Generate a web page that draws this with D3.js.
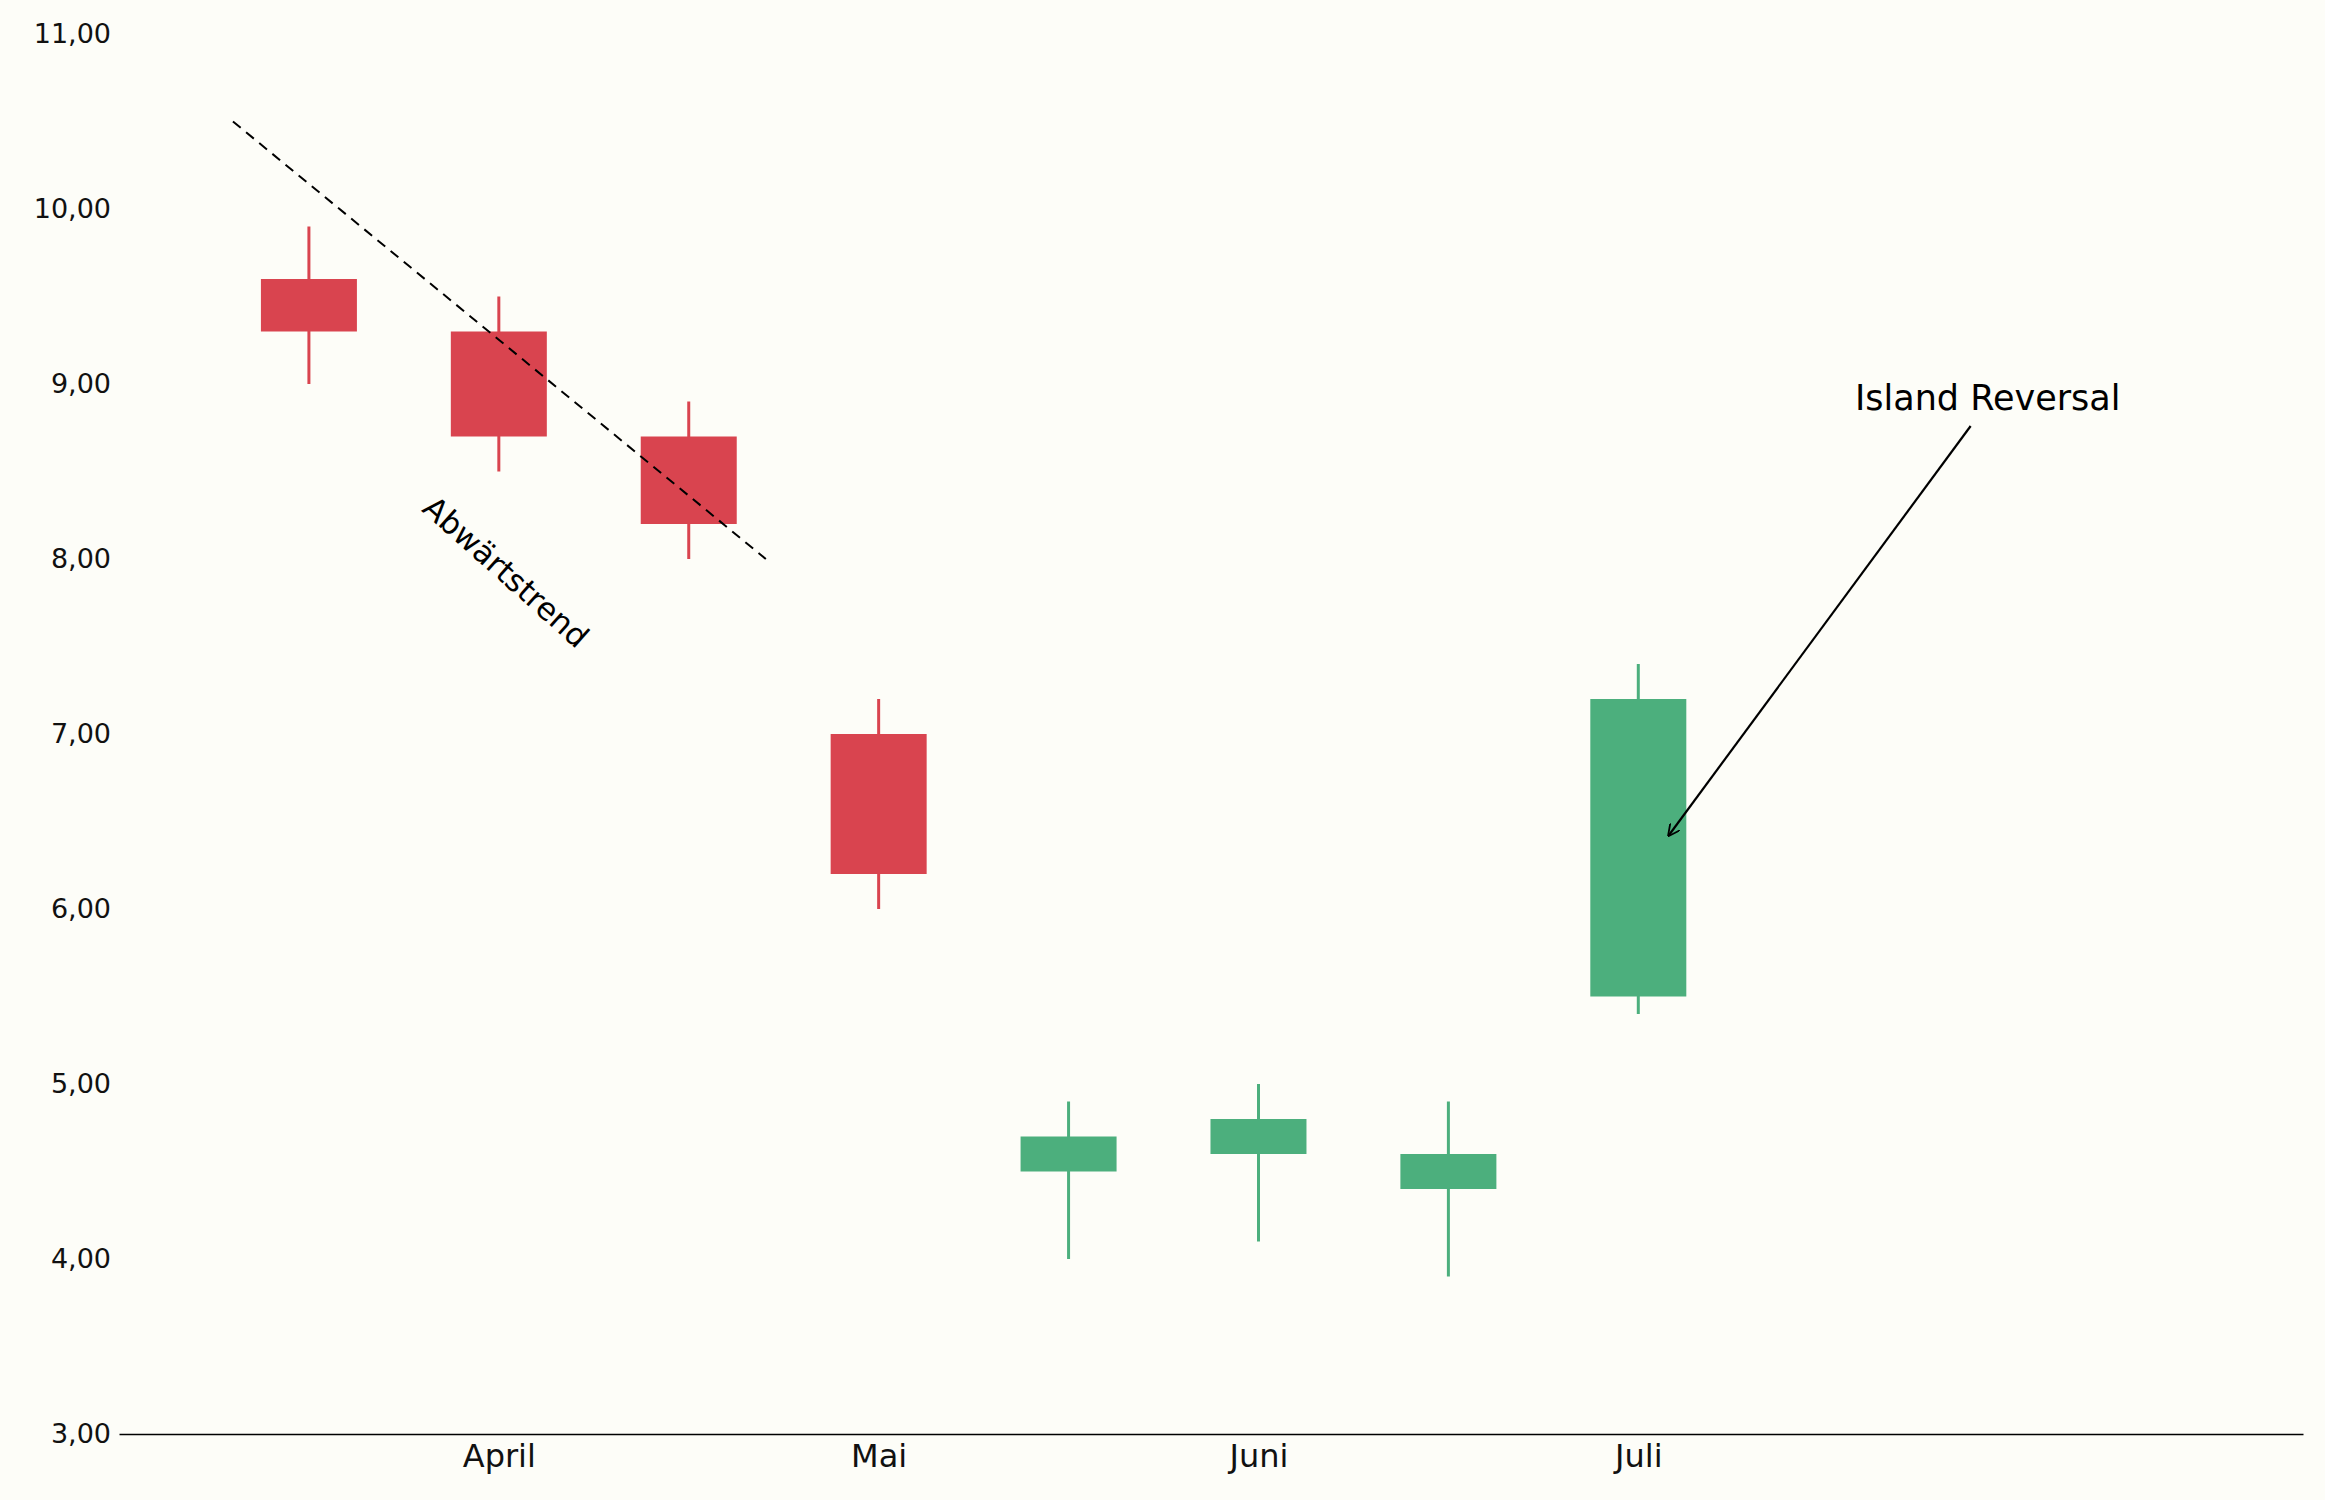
<!DOCTYPE html>
<html><head><meta charset="utf-8">
<script src="https://cdn.jsdelivr.net/npm/d3@7"></script>
<style>body{margin:0;background:#fdfdf8}svg{display:block}text{font-family:"DejaVu Sans",sans-serif}</style>
</head><body>
<script>
const idx = [1,2,3,4,5,6,7,8];
const open = [9.6,9.3,8.7,7.0,4.5,4.6,4.4,5.5];
const close = [9.3,8.7,8.2,6.2,4.7,4.8,4.6,7.2];
const high = [9.9,9.5,8.9,7.2,4.9,5.0,4.9,7.4];
const low = [9.0,8.5,8.0,6.0,4.0,4.1,3.9,5.4];
const monthPos = [2,4,6,8];
const monthLabels = ["April","Mai","Juni","Juli"];
const yTicks = [3,4,5,6,7,8,9,10,11];

const W=2325,H=1500;
const svg=d3.select("body").append("svg").attr("width",W).attr("height",H);
svg.append("rect").attr("width",W).attr("height",H).attr("fill","#fdfdf8");
const x=d3.scaleLinear().domain([0,11.5]).range([119,2303]);
const y=d3.scaleLinear().domain([3,11]).range([1434,34]);
const fmt=d=>d.toFixed(2).replace(".",",");

const ya=svg.append("g").attr("transform","translate(119,0)")
 .call(d3.axisLeft(y).tickValues(yTicks).tickFormat(fmt).tickSize(0).tickPadding(8));
ya.select(".domain").remove();
ya.selectAll("text").attr("font-size",27).attr("fill","#111");
const xa=svg.append("g").attr("transform","translate(0,1434)")
 .call(d3.axisBottom(x).tickValues(monthPos).tickFormat((d,i)=>monthLabels[i]).tickSize(0).tickPadding(10));
xa.select(".domain").attr("stroke","#000").attr("stroke-width",1.5);
xa.selectAll("text").attr("font-size",32).attr("fill","#111");

const bw=96;
idx.forEach((d,i)=>{
 const c=close[i]>=open[i]?"#4caf7d":"#d9444f";
 svg.append("line").attr("x1",x(d)).attr("x2",x(d)).attr("y1",y(high[i])).attr("y2",y(low[i])).attr("stroke",c).attr("stroke-width",3);
 svg.append("rect").attr("x",x(d)-bw/2).attr("width",bw)
  .attr("y",y(Math.max(open[i],close[i]))).attr("height",Math.abs(y(open[i])-y(close[i]))).attr("fill",c);
});

svg.append("line").attr("x1",x(0.6)).attr("y1",y(10.5)).attr("x2",x(3.406)).attr("y2",y(8.0))
 .attr("stroke","#000").attr("stroke-width",2).attr("stroke-dasharray","10,7");
svg.append("text").attr("transform",`translate(${x(2)},${y(7.88)}) rotate(41.7)`)
 .attr("text-anchor","middle").attr("font-size",31).text("Abwärtstrend");

svg.append("defs").append("marker").attr("id","ah").attr("viewBox","0 0 10 10").attr("refX",9).attr("refY",5)
 .attr("markerWidth",12).attr("markerHeight",12).attr("markerUnits","userSpaceOnUse").attr("orient","auto")
 .append("path").attr("d","M0,0L10,5L0,10").attr("fill","none").attr("stroke","#000").attr("stroke-width",1.5);
svg.append("line").attr("x1",x(9.75)).attr("y1",y(8.76)).attr("x2",x(8.16)).attr("y2",y(6.42))
 .attr("stroke","#000").attr("stroke-width",2.2).attr("marker-end","url(#ah)");
svg.append("text").attr("x",x(9.84)).attr("y",y(8.85)).attr("text-anchor","middle").attr("font-size",35).text("Island Reversal");
</script>
</body></html>
